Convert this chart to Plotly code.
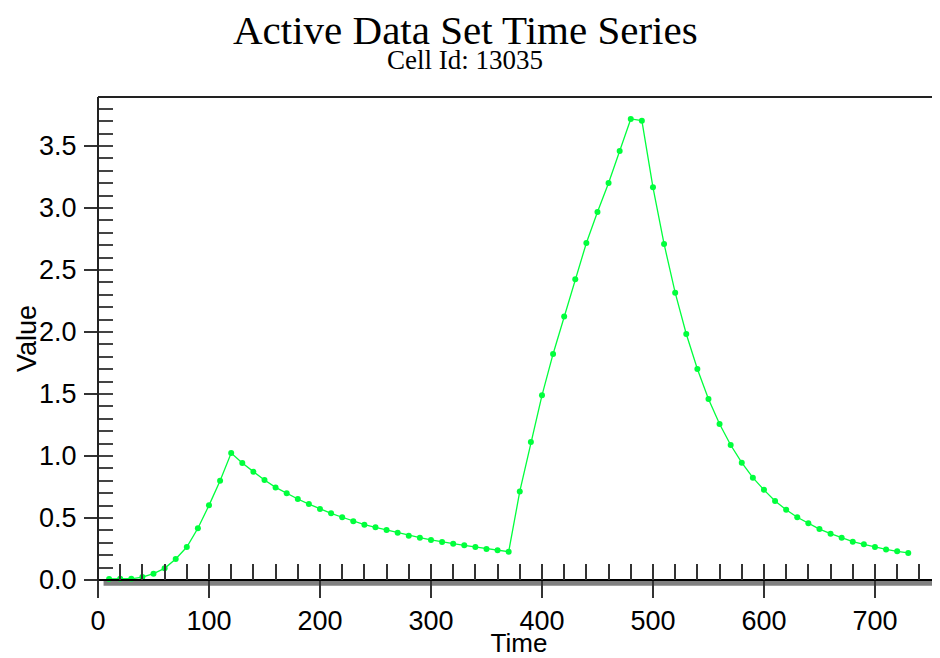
import plotly.graph_objects as go

# ---------------- data ----------------
time = [10, 20, 30, 40, 50, 60, 70, 80, 90, 100,
        110, 120, 130, 140, 150, 160, 170, 180, 190, 200,
        210, 220, 230, 240, 250, 260, 270, 280, 290, 300,
        310, 320, 330, 340, 350, 360, 370, 380, 390, 400,
        410, 420, 430, 440, 450, 460, 470, 480, 490, 500,
        510, 520, 530, 540, 550, 560, 570, 580, 590, 600,
        610, 620, 630, 640, 650, 660, 670, 680, 690, 700,
        710, 720, 730]
values = [0.008, 0.010, 0.010, 0.024, 0.051, 0.094, 0.169, 0.266, 0.417, 0.602,
          0.801, 1.024, 0.944, 0.874, 0.806, 0.747, 0.699, 0.653, 0.612, 0.573,
          0.538, 0.506, 0.473, 0.446, 0.425, 0.403, 0.382, 0.357, 0.341, 0.323,
          0.306, 0.293, 0.280, 0.266, 0.250, 0.239, 0.228, 0.714, 1.113, 1.489,
          1.823, 2.124, 2.426, 2.718, 2.968, 3.202, 3.460, 3.718, 3.704, 3.167,
          2.710, 2.317, 1.984, 1.702, 1.460, 1.258, 1.089, 0.946, 0.825, 0.727,
          0.638, 0.567, 0.506, 0.457, 0.411, 0.374, 0.341, 0.309, 0.288, 0.266,
          0.247, 0.231, 0.218]

title_text = "Active Data Set Time Series"
subtitle_text = "Cell Id: 13035"
x_title = "Time"
y_title = "Value"

x_range = [0, 758.6]
y_range = [-0.137, 3.895]
x_major = [0, 100, 200, 300, 400, 500, 600, 700]
x_minor = [20 * i for i in range(1, 38)]
y_major = [0.0, 0.5, 1.0, 1.5, 2.0, 2.5, 3.0, 3.5]
y_major_text = ["0.0", "0.5", "1.0", "1.5", "2.0", "2.5", "3.0", "3.5"]
y_minor = [round(0.1 * i, 1) for i in range(1, 39)]

# ---------------- styles ----------------
GREEN = "#00ff3c"
SANS = "Liberation Sans, Arial, sans-serif"
TICK_FONT = dict(family=SANS, size=27, color="black")
SERIF = "Liberation Serif, Times New Roman, serif"

x_axis_pos = (0 - y_range[0]) / (y_range[1] - y_range[0])

fig = go.Figure()
fig.add_trace(go.Scatter(
    x=time, y=values, mode="lines+markers",
    line=dict(color=GREEN, width=1.3),
    marker=dict(color=GREEN, size=6),
    showlegend=False, hoverinfo="x+y",
))
# empty trace to instantiate the overlay axes used for minor ticks
fig.add_trace(go.Scatter(x=[], y=[], xaxis="x2", yaxis="y2", showlegend=False))

# page body has an 8px default margin, so the figure is 8px smaller than the window
fig.update_layout(
    width=932, height=650,
    margin=dict(l=90, r=0, t=89, b=61, autoexpand=False),
    paper_bgcolor="white", plot_bgcolor="white",
    xaxis=dict(
        range=x_range, domain=[0, 1], anchor="free", position=x_axis_pos,
        automargin=False,
        showline=True, linecolor="black", linewidth=2,
        ticks="outside", ticklen=17, tickwidth=1.5, tickcolor="#333",
        tickvals=x_major, ticktext=[str(v) for v in x_major],
        tickfont=TICK_FONT, ticklabelstandoff=0,
        showgrid=False, zeroline=False,
        title=dict(text=x_title, font=dict(family=SANS, size=26, color="black"),
                   standoff=0),
    ),
    xaxis2=dict(
        range=x_range, domain=[0, 1], overlaying="x", anchor="free", position=x_axis_pos,
        automargin=False,
        showline=False, ticks="inside", ticklen=16, tickwidth=1.5, tickcolor="#333",
        tickvals=x_minor, showticklabels=False, showgrid=False, zeroline=False,
    ),
    yaxis=dict(
        range=y_range, domain=[0, 1], anchor="free", position=0,
        automargin=False,
        showline=True, linecolor="#222", linewidth=2,
        ticks="outside", ticklen=13, tickwidth=1.5, tickcolor="#333",
        tickvals=y_major, ticktext=y_major_text,
        tickfont=TICK_FONT, ticklabelstandoff=2,
        showgrid=False, zeroline=False,
    ),
    yaxis2=dict(
        range=y_range, domain=[0, 1], overlaying="y", anchor="free", position=0, side="left",
        automargin=False,
        showline=False, ticks="inside", ticklen=14, tickwidth=1.5, tickcolor="#444",
        tickvals=y_minor, showticklabels=False, showgrid=False, zeroline=False,
    ),
    shapes=[
        # grey shadow band under the time axis
        dict(type="rect", xref="x", yref="y", x0=5, x1=x_range[1], y0=-0.046, y1=0,
             fillcolor="#808080", line=dict(width=0), layer="below"),
        # top frame line
        dict(type="line", xref="paper", yref="paper", x0=0, x1=1, y0=1, y1=1,
             line=dict(color="#222", width=2)),
    ],
    annotations=[
        dict(text=title_text, xref="paper", yref="paper", x=0.436, y=1.085,
             xanchor="center", yanchor="bottom", showarrow=False,
             font=dict(family=SERIF, size=41, color="black")),
        dict(text=subtitle_text, xref="paper", yref="paper", x=0.436, y=1.041,
             xanchor="center", yanchor="bottom", showarrow=False,
             font=dict(family=SERIF, size=27, color="black")),
        dict(text=y_title, xref="paper", yref="paper", x=-0.0843, y=0.516,
             xanchor="center", yanchor="middle", textangle=-90, showarrow=False,
             font=dict(family=SANS, size=27, color="black")),
    ],
)

fig.write_html("out.html")
